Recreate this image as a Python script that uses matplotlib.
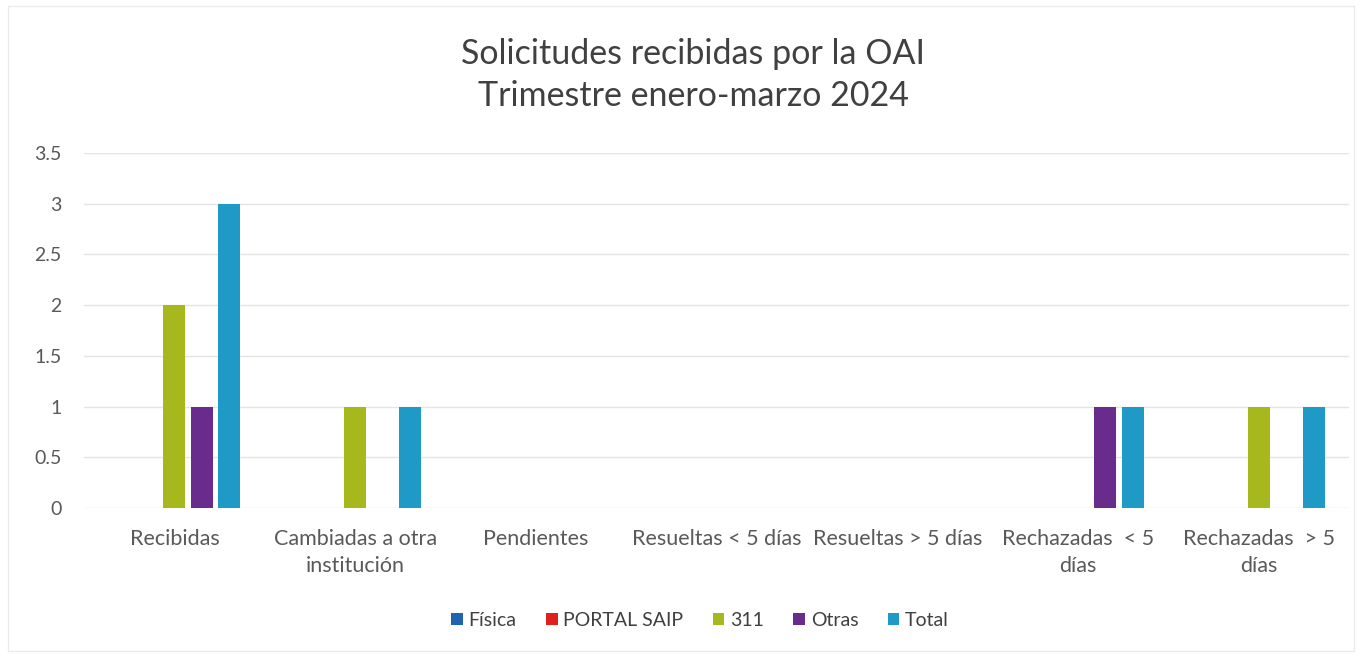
import matplotlib.pyplot as plt
import numpy as np
from matplotlib.patches import Rectangle

categorias = ["Recibidas", "Cambiadas a otra\ninstitución", "Pendientes",
              "Resueltas < 5 días", "Resueltas > 5 días",
              "Rechazadas  < 5\ndías", "Rechazadas  > 5\ndías"]
series = ["Física", "PORTAL SAIP", "311", "Otras", "Total"]
fisica = [0, 0, 0, 0, 0, 0, 0]
portal_saip = [0, 0, 0, 0, 0, 0, 0]
tres11 = [2, 1, 0, 0, 0, 0, 1]
otras = [1, 0, 0, 0, 0, 1, 0]
total = [3, 1, 0, 0, 0, 1, 1]
colores = ["#2163AE", "#E0201E", "#A7B81C", "#6A2C8C", "#1F9AC6"]

plt.rcParams['font.family'] = ['Lato', 'DejaVu Sans']

fig = plt.figure(figsize=(13.62, 6.55), dpi=100)
ax = fig.add_axes([0.0617, 0.2244, 0.9288, 0.542])

x = np.arange(len(categorias))
paso = 0.152
ancho = 0.122
for i, (nombre, vals) in enumerate(zip(series, [fisica, portal_saip, tres11, otras, total])):
    ax.bar(x + (i - 2) * paso, vals, ancho, color=colores[i], label=nombre, zorder=3)

ax.set_xlim(-0.5, len(categorias) - 0.5)
ax.set_ylim(0, 3.5)
ax.set_yticks(np.arange(0, 3.6, 0.5))
ax.set_yticklabels(["0", "0.5", "1", "1.5", "2", "2.5", "3", "3.5"])
ax.set_xticks(x)
ax.set_xticklabels(categorias, linespacing=1.45)
ax.tick_params(axis='x', length=0, labelsize=15.5, colors="#595959", pad=15)
ax.tick_params(axis='y', length=0, labelsize=14, colors="#595959", pad=16)
ax.grid(axis='y', color="#E4E4E4", linewidth=1, zorder=0)
for s in ax.spines.values():
    s.set_visible(False)

fig.text(0.509, 0.886, "Solicitudes recibidas por la OAI\nTrimestre enero-marzo 2024",
         ha='center', va='center', fontsize=24.5, color="#404040", linespacing=1.38)

leg = fig.legend(loc='center', bbox_to_anchor=(0.514, 0.053), ncol=5, frameon=False,
                 fontsize=14, handlelength=0.6, handleheight=0.6, handletextpad=0.3,
                 columnspacing=1.5, labelcolor="#404040")

fig.patches.append(Rectangle((0.006, 0.006), 0.988, 0.985, transform=fig.transFigure,
                             fill=False, edgecolor="#EBEBEB", linewidth=1))

fig.savefig("out.png", dpi=100)
